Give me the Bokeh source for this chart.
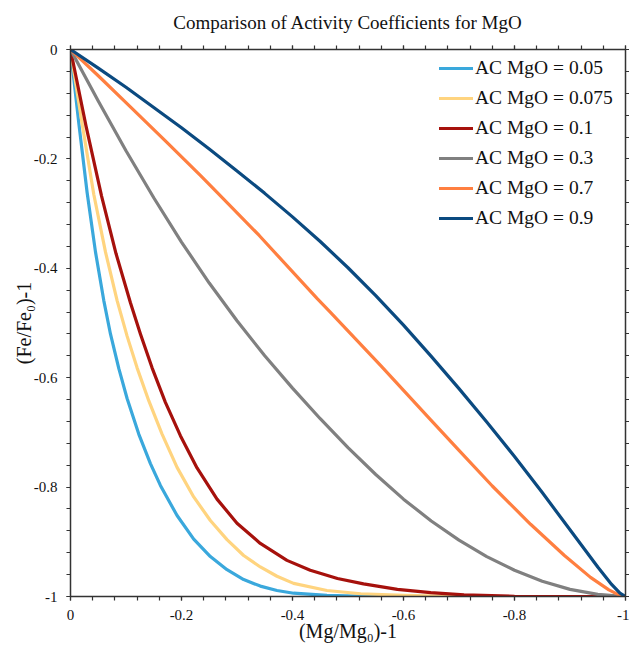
from bokeh.plotting import figure
from bokeh.models import Range1d, FixedTicker, LinearAxis, CustomJSTickFormatter, Legend, LegendItem
from bokeh.embed import file_html
from bokeh.resources import INLINE

# ---- data ----
title_text = "Comparison of Activity Coefficients for MgO"
labels = ["AC MgO = 0.05", "AC MgO = 0.075", "AC MgO = 0.1", "AC MgO = 0.3", "AC MgO = 0.7", "AC MgO = 0.9"]
colors = ["#3aa8dc", "#ffd47f", "#a6110c", "#808080", "#ff7f40", "#0b4a80"]

x_005 = [0, -0.015, -0.030, -0.045, -0.060, -0.072, -0.087, -0.102, -0.123, -0.144, -0.162, -0.192, -0.222,
         -0.252, -0.282, -0.312, -0.342, -0.372, -0.402, -0.462, -0.55, -0.75, -1.0]
y_005 = [0, -0.135, -0.262, -0.370, -0.459, -0.520, -0.583, -0.638, -0.703, -0.757, -0.797, -0.852, -0.895,
         -0.927, -0.951, -0.969, -0.981, -0.989, -0.994, -0.998, -1.0, -1.0, -1.0]

x_0075 = [0, -0.020, -0.042, -0.063, -0.084, -0.102, -0.120, -0.141, -0.165, -0.192, -0.222, -0.252, -0.282,
          -0.312, -0.342, -0.372, -0.402, -0.462, -0.523, -0.60, -0.70, -0.85, -1.0]
y_0075 = [0, -0.130, -0.265, -0.370, -0.459, -0.524, -0.582, -0.642, -0.703, -0.764, -0.818, -0.861, -0.896,
          -0.925, -0.946, -0.963, -0.976, -0.989, -0.995, -0.998, -1.0, -1.0, -1.0]

x_01 = [0, -0.028, -0.056, -0.082, -0.108, -0.126, -0.147, -0.171, -0.198, -0.228, -0.264, -0.300, -0.342,
        -0.390, -0.432, -0.481, -0.528, -0.589, -0.649, -0.709, -0.80, -0.90, -1.0]
y_01 = [0, -0.140, -0.268, -0.373, -0.463, -0.520, -0.582, -0.645, -0.706, -0.765, -0.822, -0.866, -0.903,
        -0.934, -0.952, -0.967, -0.977, -0.987, -0.993, -0.997, -0.9995, -1.0, -1.0]

x_03 = [0, -0.05, -0.10, -0.15, -0.20, -0.25, -0.30, -0.35, -0.40, -0.45, -0.50,
        -0.55, -0.60, -0.65, -0.70, -0.75, -0.80, -0.85, -0.90, -0.95, -1.0]
y_03 = [0, -0.094, -0.185, -0.271, -0.352, -0.427, -0.496, -0.560, -0.619, -0.675, -0.728,
        -0.777, -0.822, -0.862, -0.897, -0.927, -0.952, -0.972, -0.987, -0.996, -1.0]

x_07 = [0, -0.050, -0.100, -0.170, -0.234, -0.261, -0.340, -0.445, -0.468, -0.559, -0.649, -0.700, -0.760,
        -0.829, -0.890, -0.937, -0.970, -0.988, -1.0]
y_07 = [0, -0.048, -0.097, -0.166, -0.230, -0.258, -0.340, -0.456, -0.480, -0.578, -0.677, -0.733, -0.798,
        -0.868, -0.925, -0.965, -0.988, -0.997, -1.0]

x_09 = [0, -0.05, -0.10, -0.15, -0.20, -0.25, -0.30, -0.35, -0.40, -0.45, -0.50,
        -0.55, -0.60, -0.65, -0.70, -0.75, -0.80, -0.85, -0.90, -0.95, -0.975, -0.99, -1.0]
y_09 = [0, -0.034, -0.069, -0.106, -0.143, -0.182, -0.222, -0.263, -0.306, -0.351, -0.399,
        -0.450, -0.504, -0.561, -0.620, -0.681, -0.744, -0.810, -0.878, -0.946, -0.978, -0.994, -1.0]

major_ticks = [0, -0.2, -0.4, -0.6, -0.8, -1.0]
minor_ticks = [-0.04 * i for i in range(26)]

series_x = [x_005, x_0075, x_01, x_03, x_07, x_09]
series_y = [y_005, y_0075, y_01, y_03, y_07, y_09]

FONT = "Liberation Serif"

p = figure(width=629, height=653, output_backend="svg", toolbar_location=None,
           x_range=Range1d(0, -1), y_range=Range1d(-1, 0),
           min_border_left=70, min_border_right=4, min_border_top=49, min_border_bottom=57,
           title=title_text)
p.outline_line_color = None
p.xgrid.visible = False
p.ygrid.visible = False
p.background_fill_color = "white"
p.border_fill_color = "white"

p.title.text_font = FONT
p.title.text_font_size = "19px"
p.title.text_font_style = "normal"
p.title.align = "center"
p.title.vertical_align = "top"
p.title.text_color = "#111111"
p.title.standoff = 21

fmt = CustomJSTickFormatter(code="""
if (Math.abs(tick) < 1e-9) return "0";
return tick.toFixed(1).replace(/\\.0$/, "");
""")
blank = CustomJSTickFormatter(code='return "";')

def style_axis(ax, show_labels=True):
    ax.ticker = FixedTicker(ticks=major_ticks, minor_ticks=minor_ticks)
    ax.axis_line_color = "#333333"
    ax.axis_line_width = 1.5
    ax.major_tick_line_color = "#333333"
    ax.minor_tick_line_color = "#333333"
    ax.major_tick_line_width = 1.2
    ax.minor_tick_line_width = 1.2
    ax.major_tick_in = 0
    ax.minor_tick_in = 0
    ax.major_tick_out = 4
    ax.minor_tick_out = 4
    if show_labels:
        ax.formatter = fmt
        ax.major_label_text_font = FONT
        ax.major_label_text_font_size = "15px"
        ax.major_label_text_color = "#111111"
        ax.axis_label_text_font = FONT
        ax.axis_label_text_font_size = "20px"
        ax.axis_label_text_font_style = "normal"
        ax.axis_label_text_color = "#111111"
    else:
        ax.formatter = blank
        ax.major_label_standoff = 0

xa = p.xaxis[0]
ya = p.yaxis[0]
style_axis(xa)
style_axis(ya)
xa.axis_label = "(Mg/Mg\u2080)-1"
ya.axis_label = "(Fe/Fe\u2080)-1"
xa.major_label_standoff = 9
xa.axis_label_standoff = -3
ya.major_label_standoff = 9
ya.axis_label_standoff = -4

top = LinearAxis()
right = LinearAxis()
style_axis(top, False)
style_axis(right, False)
p.add_layout(top, "above")
p.add_layout(right, "right")

items = []
for xs, ys, c, lab in zip(series_x, series_y, colors, labels):
    r = p.line(xs, ys, line_color=c, line_width=3.2, line_join="round", line_cap="round")
    items.append(LegendItem(label=lab, renderers=[r]))

legend = Legend(items=items, location="top_right")
legend.background_fill_alpha = 0
legend.border_line_alpha = 0
legend.label_text_font = FONT
legend.label_text_font_size = "19.5px"
legend.label_text_color = "#111111"
legend.glyph_width = 34
legend.glyph_height = 22
legend.label_height = 22
legend.label_width = 142
legend.spacing = 8
legend.padding = 5
legend.margin = 3
legend.label_standoff = 2
p.add_layout(legend)

open("out.html", "w").write(file_html(p, INLINE))
